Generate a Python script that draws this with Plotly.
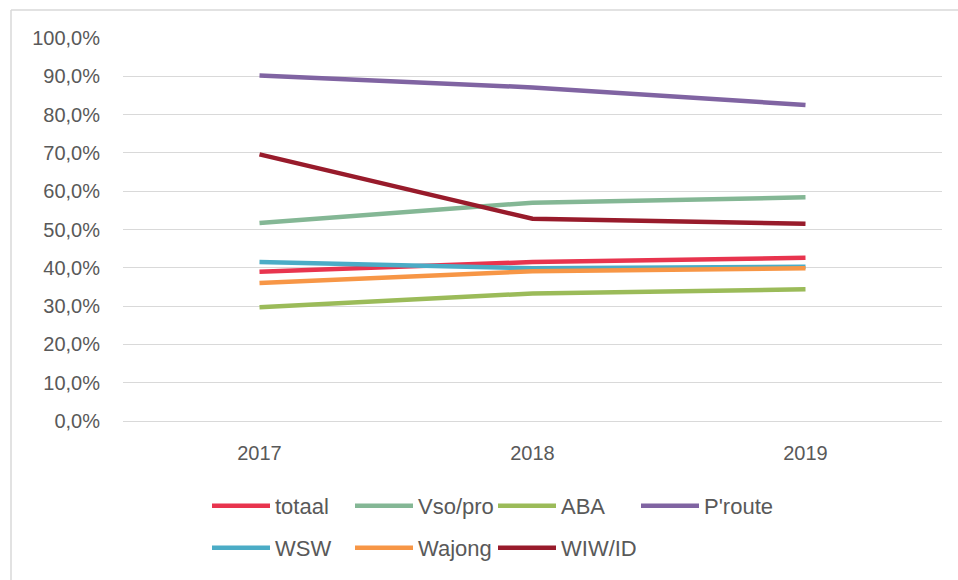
import plotly.graph_objects as go

# Jaren (categorieën)
years = ["2017", "2018", "2019"]

# Aandelen per doelgroep (fractie)
totaal = [0.390, 0.415, 0.426]
vso_pro = [0.517, 0.570, 0.584]
aba = [0.297, 0.333, 0.344]
p_route = [0.902, 0.871, 0.825]
wsw = [0.415, 0.399, 0.403]
wajong = [0.360, 0.391, 0.399]
wiw_id = [0.696, 0.528, 0.515]

series = [
    ("totaal", totaal, "#E8344E", "legend"),
    ("Vso/pro", vso_pro, "#84B795", "legend"),
    ("ABA", aba, "#9BBB59", "legend"),
    ("P'route", p_route, "#8064A2", "legend"),
    ("WSW", wsw, "#4BACC6", "legend2"),
    ("Wajong", wajong, "#F79646", "legend2"),
    ("WIW/ID", wiw_id, "#981B2B", "legend2"),
]

W, H = 958, 580
L, R, T, B = 123, 16, 38, 158
pw, ph = W - L - R, H - T - B


def px_x(px):
    return (px - L) / pw


def px_y(py):
    return (H - B - py) / ph


fig = go.Figure()
for name, vals, color, leg in series:
    fig.add_trace(go.Scatter(
        x=years, y=vals, name=name, mode="lines",
        line=dict(color=color, width=4.5),
        legend=leg,
    ))

text_color = "#595959"
grid_color = "#D9D9D9"
legend_common = dict(
    orientation="h",
    xanchor="left",
    yanchor="middle",
    x=px_x(207),
    entrywidth=70,
    entrywidthmode="pixels",
    itemwidth=58,
    font=dict(size=22, color=text_color),
    bgcolor="rgba(0,0,0,0)",
    tracegroupgap=0,
)

fig.update_layout(
    width=W, height=H,
    margin=dict(l=L, r=R, t=T, b=B),
    plot_bgcolor="white",
    paper_bgcolor="white",
    font=dict(family="Liberation Sans, Arial, sans-serif", color=text_color, size=20),
    separators=",.",
    legend=dict(legend_common, y=px_y(506)),
    legend2=dict(legend_common, y=px_y(548)),
    xaxis=dict(
        type="category",
        range=[-0.5, 2.5],
        showgrid=False,
        zeroline=False,
        showline=True,
        linecolor=grid_color,
        linewidth=1.3,
        ticks="",
        ticklabelstandoff=14,
        tickfont=dict(size=20, color=text_color),
    ),
    yaxis=dict(
        range=[0, 1],
        dtick=0.1,
        tickformat=".1%",
        showgrid=True,
        gridcolor=grid_color,
        gridwidth=1.3,
        zeroline=False,
        showline=False,
        ticks="",
        ticklabelstandoff=22,
        tickfont=dict(size=20, color=text_color),
    ),
    shapes=[
        dict(type="line", xref="paper", yref="paper",
             x0=px_x(11), x1=px_x(970), y0=px_y(10), y1=px_y(10),
             line=dict(color=grid_color, width=1.5)),
        dict(type="line", xref="paper", yref="paper",
             x0=px_x(11), x1=px_x(11), y0=px_y(10), y1=px_y(600),
             line=dict(color=grid_color, width=1.5)),
    ],
)

fig.write_html(
    "out.html",
    config={"displayModeBar": False},
    post_script="document.body.style.margin='0';",
)
